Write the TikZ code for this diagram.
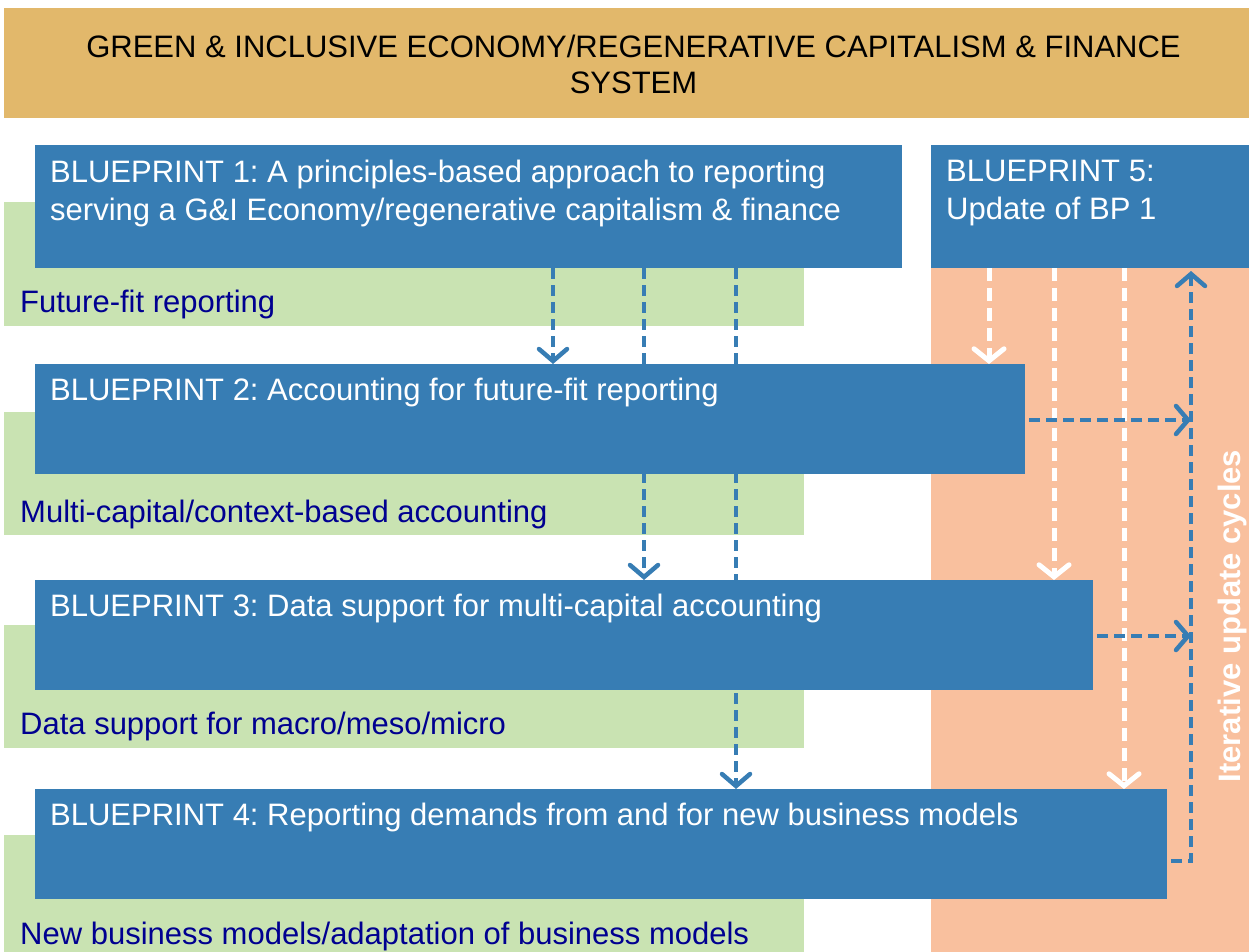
\documentclass[tikz,border=0pt]{standalone}
\usepackage{fontspec}
\setmainfont{Liberation Sans}
\usetikzlibrary{arrows.meta}
\definecolor{bpblue}{HTML}{377DB4}
\definecolor{bannergold}{HTML}{E2B86B}
\definecolor{fitgreen}{HTML}{C9E3B2}
\definecolor{cyclesalmon}{HTML}{F9C09E}
\definecolor{navytext}{HTML}{000090}
\pgfdeclarelayer{back}
\pgfdeclarelayer{mid}
\pgfsetlayers{back,mid,main}
\frenchspacing
\begin{document}
\begin{tikzpicture}[x=1pt,y=-1pt,
    area/.style={anchor=north west,inner sep=0pt,outer sep=0pt,draw=none},
    bp/.style={area,fill=bpblue},
    bptext/.style={anchor=north west,inner sep=0pt,text=white,align=left,font=\fontsize{31}{38}\selectfont},
    greentext/.style={anchor=north west,inner sep=0pt,text=navytext,font=\fontsize{31}{38}\selectfont},
    bluedash/.style={draw=bpblue,line width=4.5pt,dash pattern=on 11pt off 6pt,-{Straight Barb[length=12pt,width=28pt,line cap=round]}},
    whitedash/.style={draw=white,line width=5pt,dash pattern=on 13pt off 7pt,-{Straight Barb[length=12pt,width=30pt,line cap=round]}}]
    \useasboundingbox (0,0) rectangle (1249,952);
    % blueprint boxes
    \node [bp,minimum width=867pt,minimum height=123pt] (bp1) at (35,145) {};
    \node [bp,minimum width=990pt,minimum height=110pt] (bp2) at (35,364) {};
    \node [bp,minimum width=1058pt,minimum height=110pt] (bp3) at (35,580) {};
    \node [bp,minimum width=1132pt,minimum height=110pt] (bp4) at (35,789) {};
    \node [bp,minimum width=318pt,minimum height=123pt] (bp5) at (931,145) {};
    \node [bptext] (bp1text) at ([shift={(15,15)}]bp1.north west)
        {BLUEPRINT 1: A principles-based approach to reporting\\serving a G\&I Economy/regenerative capitalism \& finance};
    \node [bptext] (bp2text) at ([shift={(15,14)}]bp2.north west) {BLUEPRINT 2: Accounting for future-fit reporting};
    \node [bptext] (bp3text) at ([shift={(15,14)}]bp3.north west) {BLUEPRINT 3: Data support for multi-capital accounting};
    \node [bptext] (bp4text) at ([shift={(15,14)}]bp4.north west) {BLUEPRINT 4: Reporting demands from and for new business models};
    \node [bptext] (bp5text) at ([shift={(15,15)}]bp5.north west) {BLUEPRINT 5:\\Update of BP 1};
    \begin{pgfonlayer}{back}
        \node [area,fill=bannergold,minimum width=1245pt,minimum height=110pt] (banner) at (4,8) {};
        \node [align=center,font=\fontsize{31}{36}\selectfont] (bannertext) at ([xshift=7pt,yshift=-1pt]banner.center)
            {GREEN \& INCLUSIVE ECONOMY/REGENERATIVE CAPITALISM \& FINANCE\\SYSTEM};
        \node [area,fill=fitgreen,minimum width=800pt,minimum height=124pt] (green1) at (4,202) {};
        \node [area,fill=fitgreen,minimum width=800pt,minimum height=123pt] (green2) at (4,412) {};
        \node [area,fill=fitgreen,minimum width=800pt,minimum height=123pt] (green3) at (4,625) {};
        \node [area,fill=fitgreen,minimum width=800pt,minimum height=117pt] (green4) at (4,835) {};
        \node [area,fill=cyclesalmon,minimum width=318pt,minimum height=807pt] (cycles) at (931,145) {};
        \node [greentext] (green1text) at ([shift={(16,-36)}]green1.south west) {Future-fit reporting};
        \node [greentext] (green2text) at ([shift={(16,-35)}]green2.south west) {Multi-capital/context-based accounting};
        \node [greentext] (green3text) at ([shift={(16,-36)}]green3.south west) {Data support for macro/meso/micro};
        \node [greentext] (green4text) at ([shift={(16,-30)}]green4.south west) {New business models/adaptation of business models};
        \node [rotate=90,inner sep=0pt,text=white,font=\fontsize{31}{36}\selectfont\bfseries] (cyclestext) at (1232,616) {Iterative update cycles};
    \end{pgfonlayer}
    \coordinate (cyclex) at ([xshift=260pt]bp5.south west);
    \coordinate (bp2out) at ([shift={(4,56)}]bp2.north east);
    \coordinate (bp3out) at ([shift={(4,56)}]bp3.north east);
    \coordinate (bp4out) at ([shift={(4,72)}]bp4.north east);
    \begin{pgfonlayer}{mid}
        \draw [bluedash] ([xshift=518pt]bp1.south west) -- ([xshift=518pt]bp1.south west |- bp2.north);
        \draw [bluedash] ([xshift=609pt]bp1.south west) -- ([xshift=609pt]bp1.south west |- bp3.north);
        \draw [bluedash] ([xshift=701pt]bp1.south west) -- ([xshift=701pt]bp1.south west |- bp4.north);
        \draw [whitedash] ([xshift=58pt]bp5.south west) -- ([xshift=58pt]bp5.south west |- bp2.north);
        \draw [whitedash] ([xshift=123pt]bp5.south west) -- ([xshift=123pt]bp5.south west |- bp3.north);
        \draw [whitedash] ([xshift=193pt]bp5.south west) -- ([xshift=193pt]bp5.south west |- bp4.north);
        \draw [bluedash] (bp2out) -- (bp2out -| cyclex);
        \draw [bluedash] (bp3out) -- (bp3out -| cyclex);
        \draw [bluedash] (bp4out) -- (bp4out -| cyclex) -- ([yshift=-3pt]cyclex);
    \end{pgfonlayer}
\end{tikzpicture}
\end{document}
